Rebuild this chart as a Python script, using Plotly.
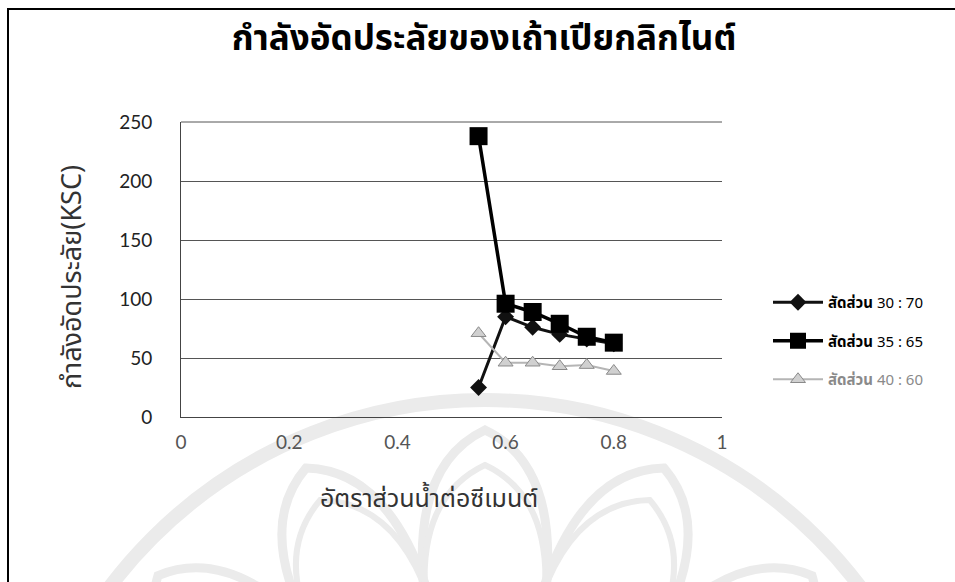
import math
import plotly.graph_objects as go

# water/cement ratio on the x axis
wc_ratio = [0.55, 0.60, 0.65, 0.70, 0.75, 0.80]

# compressive strength (ksc) for each mix proportion
strength_30_70 = [25, 85, 76, 70, 66, 62]
strength_35_65 = [238, 96, 89, 79, 68, 63]
strength_40_60 = [71, 46, 46, 43, 44, 39]

series_names = ["สัดส่วน", "สัดส่วน", "สัดส่วน"]
series_ratios = ["30 : 70", "35 : 65", "40 : 60"]

y_ticks = [0, 50, 100, 150, 200, 250]
x_ticks = [0, 0.2, 0.4, 0.6, 0.8, 1]

THAI_FONT = "Noto Sans, Noto Sans Thai, Loma, Garuda, sans-serif"
NUM_FONT = "Lato, Open Sans, sans-serif"

# plot-area placement in pixels
L, R, T, B = 181, 722, 122, 417
PW, PH = R - L, B - T


def px(x):
    return (x - L) / PW


def py(y):
    return (B - y) / PH


fig = go.Figure()

fig.add_trace(go.Scatter(
    x=wc_ratio, y=strength_30_70, mode="lines+markers",
    name="<b>" + series_names[0] + "</b> " + series_ratios[0],
    line=dict(color="#111111", width=3),
    marker=dict(symbol="diamond", size=13, color="#111111"),
    legendgroup="a",
))
fig.add_trace(go.Scatter(
    x=wc_ratio, y=strength_35_65, mode="lines+markers",
    name="<b>" + series_names[1] + "</b> " + series_ratios[1],
    line=dict(color="#000000", width=3.5),
    marker=dict(symbol="square", size=18, color="#000000"),
    legendgroup="b",
))
fig.add_trace(go.Scatter(
    x=wc_ratio, y=strength_40_60, mode="lines+markers",
    name='<span style="color:#8a8a8a"><b>' + series_names[2] + "</b> " + series_ratios[2] + "</span>",
    line=dict(color="#b5b5b5", width=2),
    marker=dict(symbol="triangle-up", size=13, color="#d0d0d0",
                line=dict(color="#8a8a8a", width=1)),
    legendgroup="c",
))

shapes = []

# faint lotus emblem behind the lower half of the page
CX, CY = 485, 870
WM = "#ebebeb"
shapes.append(dict(
    type="circle", xref="paper", yref="paper", layer="below",
    x0=px(CX - 470), x1=px(CX + 470), y0=py(CY + 470), y1=py(CY - 470),
    line=dict(color=WM, width=14),
))


def polar(r, deg):
    a = math.radians(deg)
    return px(CX + r * math.cos(a)), py(CY + r * math.sin(a))


def petal(theta, half, r_base, r_apex):
    b1 = polar(r_base, theta - half)
    b2 = polar(r_base, theta + half)
    c1 = polar(r_apex * 0.93, theta - half * 0.9)
    c2 = polar(r_apex * 0.93, theta + half * 0.9)
    ap = polar(r_apex, theta)
    return "M {:.4f},{:.4f} Q {:.4f},{:.4f} {:.4f},{:.4f} Q {:.4f},{:.4f} {:.4f},{:.4f}".format(
        b1[0], b1[1], c1[0], c1[1], ap[0], ap[1], c2[0], c2[1], b2[0], b2[1])


for k in range(-3, 4):
    theta = -90 + 24 * k
    for r_apex, w in [(440, 9), (405, 6)]:
        shapes.append(dict(type="path", xref="paper", yref="paper", layer="below",
                           path=petal(theta, 13, 250, r_apex),
                           line=dict(color=WM, width=w)))

# outer frame; only the left and top edges fall inside the page
shapes.append(dict(type="rect", xref="paper", yref="paper",
                   x0=px(8), x1=px(1200), y0=py(800), y1=py(9),
                   line=dict(color="#000000", width=2)))
# top edge of the plot area at 250
shapes.append(dict(type="line", xref="paper", yref="paper",
                   x0=0, x1=1, y0=1, y1=1,
                   line=dict(color="#555555", width=1)))

fig.update_layout(
    width=955, height=582,
    margin=dict(l=L, r=955 - R, t=T, b=582 - B),
    paper_bgcolor="white", plot_bgcolor="white",
    title=dict(text="<b>กำลังอัดประลัยของเถ้าเปียกลิกไนต์</b>",
               x=484 / 955, xref="container", xanchor="center",
               y=1 - 38 / 582, yanchor="middle",
               font=dict(family=THAI_FONT, size=35, color="#000000")),
    xaxis=dict(range=[0, 1], tickvals=x_ticks, ticktext=[str(v) for v in x_ticks],
               showgrid=False, zeroline=False, showline=True,
               linecolor="#444444", linewidth=1, ticks="",
               ticklabelstandoff=8,
               tickfont=dict(family=NUM_FONT, size=19, color="#555555")),
    yaxis=dict(range=[0, 250], tickvals=y_ticks,
               showgrid=True, gridcolor="#555555", gridwidth=1,
               zeroline=False, showline=True, linecolor="#444444", linewidth=1,
               ticks="", ticklabelstandoff=24,
               tickfont=dict(family=NUM_FONT, size=19, color="#222222")),
    legend=dict(x=px(768), y=py(286), xanchor="left", yanchor="top",
                font=dict(family=THAI_FONT, size=15, color="#000000"),
                tracegroupgap=16, itemwidth=50, bgcolor="rgba(0,0,0,0)"),
    showlegend=True,
    shapes=shapes,
    annotations=[
        dict(text="กำลังอัดประลัย(KSC)", xref="paper", yref="paper",
             x=px(70), y=py(277), textangle=-90,
             showarrow=False, xanchor="center", yanchor="middle",
             font=dict(family=THAI_FONT, size=27, color="#333333")),
        dict(text="อัตราส่วนน้ำต่อซีเมนต์", xref="paper", yref="paper",
             x=px(429), y=py(497),
             showarrow=False, xanchor="center", yanchor="middle",
             font=dict(family=THAI_FONT, size=25, color="#333333")),
    ],
)

fig.write_html("out.html")
